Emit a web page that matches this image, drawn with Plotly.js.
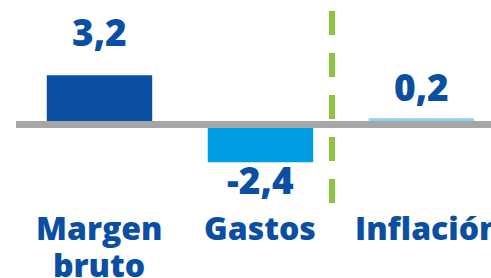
<!DOCTYPE html>
<html>
<head>
<meta charset="utf-8">
<script src="https://cdn.plot.ly/plotly-3.0.1.min.js"></script>
<style>
  html, body { margin: 0; padding: 0; background: #ffffff; }
  #chart { width: 491px; height: 278px; }
</style>
</head>
<body>
<div id="chart"></div>
<script>
// ---- data ----
const categories = ["Margen bruto", "Gastos", "Inflación"];
const categoryLines = [["Margen", "bruto"], ["Gastos"], ["Inflación"]];
const values = [3.2, -2.4, 0.2];

// ---- styles ----
const barColors = ["#0a4fa3", "#009fe3", "#8ccff2"];
const textColor = "#0b4fa2";
const fontFamily = "'Open Sans', 'Liberation Sans', sans-serif";
const labelShift = [16, 10, 4];
const catXShift = [0, 0, 7];

const W = 491, H = 278;
const pxPerUnit = 14.3;      // vertical scale
const zeroPx = 124.5;        // zero line centre from top
const lineHalf = 3.5 / pxPerUnit; // half thickness of the zero line, in data units
const yTop = zeroPx / pxPerUnit;
const yBottom = -(H - zeroPx) / pxPerUnit;

const bases = values.map(v => v >= 0 ? lineHalf : -lineHalf);

const trace = {
  type: "bar",
  x: categories,
  y: values,
  base: bases,
  width: 0.655,
  marker: { color: barColors, line: { width: 0 } },
  hoverinfo: "skip"
};

const fmt = v => v.toFixed(1).replace(".", ",");

const valueAnnotations = values.map((v, i) => ({
  xref: "x", yref: "y",
  x: categories[i],
  y: v + bases[i],
  text: fmt(v),
  showarrow: false,
  yanchor: v >= 0 ? "bottom" : "top",
  yshift: labelShift[i],
  font: { family: fontFamily, size: 37, color: textColor, weight: 800 }
}));

const catAnnotations = [];
categoryLines.forEach((lines, i) => {
  lines.forEach((ln, k) => {
    catAnnotations.push({
      xref: "x", yref: "paper",
      x: categories[i],
      y: 1 - 204 / H,
      xshift: catXShift[i],
      yshift: -37 * k,
      text: ln,
      showarrow: false,
      yanchor: "top",
      font: { family: fontFamily, size: 32, color: textColor, weight: 800 }
    });
  });
});

const layout = {
  width: W, height: H,
  margin: { l: 0, r: 0, t: 0, b: 0, pad: 0 },
  paper_bgcolor: "#ffffff",
  plot_bgcolor: "#ffffff",
  showlegend: false,
  hovermode: false,
  xaxis: {
    type: "category",
    range: [-0.618, 2.432],
    visible: false,
    fixedrange: true
  },
  yaxis: {
    range: [yBottom, yTop],
    visible: false,
    zeroline: false,
    showgrid: false,
    fixedrange: true
  },
  shapes: [
    {
      type: "line", layer: "below",
      xref: "paper", yref: "y",
      x0: 16 / W, x1: 1, y0: 0, y1: 0,
      line: { color: "#a6a6a6", width: 7 }
    },
    {
      type: "line", layer: "above",
      xref: "paper", yref: "paper",
      x0: 332 / W, x1: 332 / W,
      y0: 1 - 11 / H, y1: 1 - 203 / H,
      line: { color: "#8cc63f", width: 6, dash: "24px,18px" }
    }
  ],
  annotations: valueAnnotations.concat(catAnnotations)
};

Plotly.newPlot("chart", [trace], layout, { displayModeBar: false, staticPlot: true });
</script>
</body>
</html>
